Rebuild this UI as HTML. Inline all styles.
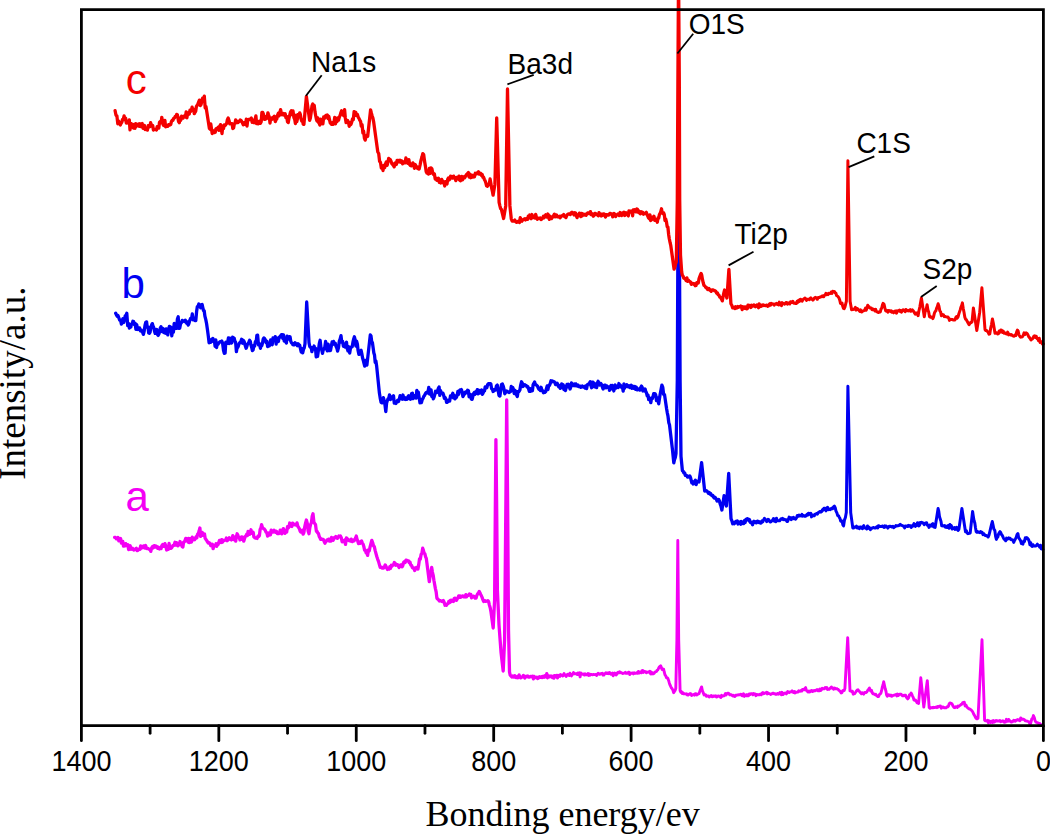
<!DOCTYPE html>
<html><head><meta charset="utf-8"><style>
html,body{margin:0;padding:0;background:#fff;}
body{width:1050px;height:834px;overflow:hidden;}
svg{display:block;}
</style></head><body>
<svg width="1050" height="834" viewBox="0 0 1050 834">
<rect width="1050" height="834" fill="#fff"/>
<g fill="none" stroke-width="3.3" stroke-linejoin="round" stroke-linecap="round">
<path d="M114.6,537.4 L115.4,537.5 L116.3,538.8 L117.2,539.0 L118.0,537.4 L118.8,540.8 L119.7,539.2 L120.6,538.6 L121.4,543.1 L122.1,541.5 L122.8,541.5 L123.5,546.2 L124.2,544.7 L125.0,545.8 L125.7,543.6 L126.4,545.5 L127.1,545.4 L127.9,544.8 L128.6,549.6 L129.4,547.5 L130.2,545.8 L130.9,549.3 L131.7,548.9 L132.5,548.3 L133.2,549.5 L134.0,550.0 L134.8,549.3 L135.5,548.9 L136.3,548.3 L137.1,550.6 L137.8,550.4 L138.6,549.4 L139.3,549.0 L140.0,549.3 L140.7,545.8 L141.4,548.1 L142.2,547.2 L142.9,547.6 L143.6,545.9 L144.3,546.6 L145.0,548.0 L145.7,545.5 L146.4,548.5 L147.2,548.7 L147.9,548.5 L148.6,548.9 L149.3,549.3 L150.0,549.4 L150.8,551.4 L151.5,548.2 L152.3,546.8 L153.1,547.9 L153.8,545.9 L154.6,545.7 L155.4,547.1 L156.1,546.1 L156.9,546.6 L157.8,548.4 L158.6,547.3 L159.5,548.9 L160.3,548.3 L161.1,548.6 L161.8,545.7 L162.6,544.6 L163.4,546.3 L164.1,546.4 L164.9,543.7 L165.8,545.9 L166.6,550.0 L167.5,549.1 L168.3,549.4 L169.1,543.5 L169.8,547.9 L170.6,548.4 L171.4,548.0 L172.1,547.0 L172.9,545.4 L173.6,545.6 L174.3,544.5 L175.0,542.3 L175.8,545.1 L176.5,542.7 L177.2,543.5 L177.9,545.8 L178.6,544.3 L179.3,544.8 L180.0,541.5 L180.7,543.2 L181.4,544.5 L182.2,546.6 L182.9,547.0 L183.6,542.1 L184.3,542.0 L185.0,540.6 L185.7,538.4 L186.4,538.6 L187.2,540.2 L187.9,542.0 L188.6,538.3 L189.3,542.7 L190.0,538.6 L190.8,540.5 L191.5,542.0 L192.3,537.1 L193.1,540.0 L193.8,539.1 L194.6,539.7 L195.3,538.3 L196.1,536.7 L196.8,537.9 L197.6,534.2 L198.3,533.5 L199.1,531.1 L199.9,528.0 L200.6,536.4 L201.4,532.5 L202.2,532.5 L202.9,535.3 L203.7,534.6 L204.5,533.9 L205.2,538.4 L206.0,539.5 L206.8,540.6 L207.5,541.9 L208.3,543.1 L209.2,542.7 L210.0,543.5 L210.8,545.7 L211.7,546.0 L212.4,544.2 L213.1,548.7 L213.8,546.2 L214.6,545.4 L215.3,545.6 L216.0,543.8 L216.7,546.3 L217.4,543.7 L218.1,544.5 L218.8,542.4 L219.5,540.4 L220.2,540.9 L221.0,542.5 L221.7,539.7 L222.4,542.2 L223.1,540.3 L224.1,540.7 L225.0,540.0 L225.7,540.0 L226.4,538.0 L227.1,540.7 L227.8,540.1 L228.6,539.5 L229.3,537.8 L230.0,538.7 L230.7,539.4 L231.4,539.9 L232.1,538.4 L232.8,535.6 L233.6,539.6 L234.3,538.8 L235.0,537.1 L235.7,541.2 L236.4,536.6 L237.1,533.8 L237.9,535.3 L238.6,537.4 L239.3,537.8 L240.0,539.9 L240.8,538.7 L241.5,536.9 L242.2,539.2 L242.9,537.3 L243.7,541.2 L244.4,538.9 L245.2,536.7 L245.9,535.9 L246.7,534.3 L247.4,535.5 L248.1,531.3 L248.8,532.2 L249.6,534.4 L250.3,532.6 L251.0,529.8 L251.7,533.4 L252.4,533.1 L253.2,532.3 L253.9,536.9 L254.7,537.7 L255.5,538.1 L256.3,537.9 L257.1,538.5 L257.9,536.3 L258.7,536.6 L259.4,535.6 L260.1,529.6 L260.9,528.0 L261.6,524.6 L262.5,527.6 L263.5,528.7 L264.4,529.1 L265.2,530.2 L266.0,532.1 L266.8,532.6 L267.6,536.1 L268.4,535.4 L269.1,532.9 L269.8,533.3 L270.5,534.7 L271.2,530.1 L272.0,532.2 L272.7,532.2 L273.4,531.8 L274.1,530.3 L274.9,532.0 L275.6,532.4 L276.4,531.3 L277.2,533.5 L277.9,533.3 L278.7,533.7 L279.5,533.2 L280.2,530.2 L281.0,532.2 L281.8,533.8 L282.5,530.4 L283.3,528.6 L284.1,530.1 L285.0,533.3 L285.9,530.5 L286.7,532.0 L287.5,526.7 L288.2,528.1 L289.0,526.9 L289.7,523.0 L290.4,525.0 L291.1,526.2 L291.9,526.5 L292.6,523.2 L293.3,523.7 L294.0,524.4 L294.7,524.6 L295.5,524.9 L296.2,525.0 L297.0,522.9 L297.8,526.2 L298.5,527.2 L299.3,528.6 L300.1,531.1 L300.8,532.2 L301.6,532.2 L302.4,530.1 L303.1,534.2 L303.9,532.6 L304.7,527.1 L305.6,522.9 L306.4,520.0 L307.3,523.4 L308.1,530.9 L309.0,533.7 L309.8,527.9 L310.6,524.4 L311.4,522.7 L312.2,516.2 L313.0,513.7 L313.9,522.1 L314.7,523.5 L315.5,524.5 L316.4,531.4 L317.1,531.5 L317.8,533.0 L318.5,533.6 L319.2,536.4 L319.9,537.7 L320.6,539.3 L321.3,538.8 L322.0,539.4 L322.8,539.3 L323.5,539.7 L324.2,541.6 L324.9,543.2 L325.6,541.7 L326.4,541.2 L327.1,539.9 L327.9,540.6 L328.6,539.1 L329.4,541.1 L330.1,539.7 L330.9,541.1 L331.6,537.4 L332.4,540.0 L333.1,540.3 L333.8,538.8 L334.5,537.4 L335.2,537.7 L335.9,536.6 L336.6,537.8 L337.4,538.3 L338.1,537.6 L338.9,536.0 L339.6,536.4 L340.4,536.0 L341.3,537.8 L342.1,541.8 L343.0,541.6 L343.8,541.1 L344.7,540.1 L345.5,544.4 L346.4,537.9 L347.2,539.8 L348.0,539.3 L348.8,540.6 L349.6,540.5 L350.4,541.0 L351.2,539.1 L352.0,541.6 L352.7,541.5 L353.4,540.3 L354.2,540.7 L354.9,539.5 L355.6,538.0 L356.3,536.0 L357.0,539.2 L357.8,541.2 L358.5,543.6 L359.2,543.4 L360.0,543.3 L360.8,541.4 L361.6,541.0 L362.4,543.1 L363.1,544.1 L363.9,546.8 L364.6,550.1 L365.4,550.2 L366.1,552.8 L366.9,552.5 L367.6,555.4 L368.4,549.9 L369.3,550.8 L370.1,546.8 L371.0,543.4 L371.8,540.4 L372.6,542.5 L373.5,545.8 L374.3,546.7 L375.2,550.6 L376.0,553.6 L376.8,556.5 L377.7,559.3 L378.5,561.4 L379.4,564.6 L380.2,567.4 L381.0,567.0 L381.9,568.0 L382.7,567.5 L383.6,568.1 L384.4,566.8 L385.2,564.9 L386.0,566.4 L386.8,568.2 L387.5,569.4 L388.3,568.6 L389.1,569.1 L389.8,566.7 L390.5,568.4 L391.3,565.3 L392.0,566.0 L392.7,565.0 L393.5,565.0 L394.3,562.5 L395.1,563.2 L395.9,565.3 L396.7,564.9 L397.5,564.6 L398.3,566.0 L399.1,567.5 L399.9,566.2 L400.6,564.9 L401.3,565.0 L402.1,566.8 L402.8,565.7 L403.5,562.6 L404.3,561.7 L405.2,562.4 L406.0,560.1 L406.9,560.4 L407.7,560.8 L408.5,560.9 L409.2,562.8 L410.0,562.1 L410.8,565.1 L411.6,565.3 L412.3,567.5 L413.1,568.0 L413.9,567.9 L414.7,570.5 L415.5,568.8 L416.3,567.5 L417.1,567.4 L417.9,569.1 L418.7,564.9 L419.5,559.0 L420.3,559.1 L421.1,554.5 L421.9,553.3 L422.7,548.2 L423.4,550.3 L424.1,553.0 L424.9,553.9 L425.6,556.8 L426.3,558.4 L429.3,581.7 L430.1,576.0 L430.9,572.4 L431.7,567.4 L432.4,572.1 L433.2,575.3 L433.9,580.2 L434.7,584.7 L435.4,588.6 L436.2,592.2 L436.9,598.1 L437.7,599.1 L438.5,599.8 L439.4,601.0 L440.2,600.7 L441.1,600.8 L441.9,601.5 L442.7,601.7 L443.4,600.6 L444.2,602.4 L445.0,605.2 L445.8,604.8 L446.5,605.3 L447.3,603.9 L448.1,603.5 L448.8,601.4 L449.6,602.7 L450.4,600.3 L451.2,600.2 L451.9,601.4 L452.7,600.3 L453.5,601.4 L454.2,598.3 L455.0,598.2 L455.7,599.9 L456.5,600.3 L457.2,598.9 L458.0,597.6 L458.7,595.9 L459.5,597.3 L460.2,595.9 L461.0,597.2 L461.7,596.5 L462.4,595.8 L463.1,596.0 L463.8,596.8 L464.5,596.0 L465.2,596.9 L465.9,594.6 L466.6,596.9 L467.3,595.3 L468.0,595.4 L468.7,595.3 L469.4,594.0 L470.1,594.8 L470.8,594.5 L471.6,597.8 L472.3,596.5 L473.0,596.4 L473.7,596.1 L474.5,597.2 L475.2,598.2 L476.0,598.2 L476.8,595.6 L477.6,593.8 L478.4,593.2 L479.2,591.4 L479.9,592.7 L480.7,594.5 L481.4,595.8 L482.1,597.4 L482.9,599.7 L483.6,601.5 L484.3,600.9 L485.0,600.6 L485.7,601.4 L486.5,601.2 L487.2,601.1 L487.9,600.7 L488.6,601.5 L489.4,605.1 L490.2,607.8 L491.0,612.0 L493.2,628.0 L494.6,600.0 L495.4,500.0 L495.9,439.6 L496.6,500.0 L497.4,590.0 L499.0,625.0 L501.0,652.0 L503.2,671.0 L504.6,640.0 L505.9,500.0 L506.7,400.0 L507.6,500.0 L508.5,630.0 L509.5,672.0 L510.2,675.2 L511.0,676.0 L511.8,676.9 L512.5,676.0 L513.2,676.2 L514.0,677.1 L514.8,675.7 L515.5,677.1 L516.2,677.6 L516.9,676.8 L517.7,677.7 L518.4,676.2 L519.1,675.0 L519.8,676.9 L520.5,677.9 L521.2,677.6 L522.0,676.9 L522.7,676.6 L523.4,675.5 L524.1,676.8 L524.8,678.0 L525.6,677.0 L526.3,676.2 L527.0,676.5 L527.7,676.0 L528.4,677.1 L529.1,676.9 L529.8,677.0 L530.5,676.3 L531.2,676.5 L531.9,676.7 L532.6,676.2 L533.4,678.9 L534.1,676.4 L534.8,677.0 L535.5,677.5 L536.2,677.7 L536.9,677.2 L537.6,678.5 L538.3,678.2 L539.0,677.1 L539.7,676.6 L540.4,677.3 L541.1,677.0 L541.8,677.6 L542.5,676.3 L543.2,676.4 L543.9,677.2 L544.6,676.0 L545.4,675.6 L546.1,676.8 L546.8,673.7 L547.5,677.8 L548.2,675.8 L548.9,676.1 L549.6,676.8 L550.3,676.4 L551.0,676.0 L551.7,676.8 L552.5,677.6 L553.2,676.2 L553.9,678.1 L554.6,675.7 L555.4,676.2 L556.1,676.7 L556.8,675.4 L557.5,677.8 L558.2,675.5 L559.0,675.7 L559.7,676.1" stroke="#f400f4" stroke-width="3.3"/>
<path d="M559.7,676.1 L560.4,674.6 L561.1,675.3 L561.9,674.9 L562.6,676.1 L563.3,675.7 L564.1,673.6 L564.8,675.1 L565.5,674.9 L566.2,676.5 L567.0,674.7 L567.7,674.3 L568.4,675.1 L569.2,675.5 L569.9,673.2 L570.6,674.4 L571.4,675.9 L572.1,674.9 L572.8,674.1 L573.5,672.5 L574.3,673.7 L575.0,673.8 L575.7,673.8 L576.5,673.7 L577.2,674.4 L577.9,673.0 L578.6,674.5 L579.4,672.8 L580.1,676.9 L580.8,672.9 L581.5,674.1 L582.3,674.0 L583.0,674.4 L583.7,674.1 L584.4,675.0 L585.1,673.7 L585.9,674.6 L586.6,674.8 L587.3,674.7 L588.0,673.5 L588.7,675.4 L589.5,674.1 L590.2,675.1 L590.9,674.6 L591.6,674.5 L592.3,674.7 L593.0,674.7 L593.8,674.5 L594.5,674.6 L595.2,674.6 L595.9,674.4 L596.6,675.5 L597.3,674.4 L598.1,673.2 L598.8,673.8 L599.5,674.2 L600.2,674.2 L601.0,673.5 L601.7,673.7 L602.4,673.3 L603.1,675.1 L603.8,675.1 L604.6,673.9 L605.3,673.3 L606.0,672.7 L606.7,673.5 L607.5,673.6 L608.2,672.8 L608.9,673.7 L609.6,672.5 L610.3,673.8 L611.0,674.2 L611.8,673.8 L612.5,673.1 L613.2,675.8 L613.9,673.8 L614.6,673.0 L615.3,673.3 L616.1,675.0 L616.8,674.1 L617.5,672.8 L618.2,672.3 L618.9,672.9 L619.6,671.8 L620.4,672.2 L621.1,672.8 L621.8,672.9 L622.5,673.5 L623.2,673.3 L624.0,673.1 L624.7,673.0 L625.4,672.3 L626.1,673.4 L626.9,673.3 L627.6,673.2 L628.3,672.3 L629.0,672.3 L629.7,674.6 L630.5,673.0 L631.2,673.3 L631.9,673.2 L632.6,672.9 L633.4,673.9 L634.1,672.8 L634.8,673.3 L635.5,673.4 L636.2,673.3 L637.0,672.5 L637.7,673.2 L638.4,671.4 L639.1,673.1 L639.8,672.6 L640.6,671.9 L641.3,672.6 L642.0,670.6 L642.7,670.5 L643.4,672.5 L644.2,671.3 L644.9,671.5 L645.6,671.6 L646.3,672.7 L647.0,672.1 L647.8,672.3 L648.5,672.0 L649.2,671.8 L649.9,671.3 L650.6,673.9 L651.3,672.1 L652.1,674.0 L652.8,673.1 L653.5,673.7 L654.2,673.3 L654.9,672.1 L655.6,671.6 L656.4,671.6 L657.1,670.3 L657.8,670.0 L658.5,668.5 L659.3,667.0 L660.0,666.5 L660.7,665.8 L661.4,667.6 L662.1,669.4 L662.9,669.0 L663.6,669.1 L664.3,672.2 L665.0,674.9 L665.8,675.9 L666.5,677.8 L667.2,677.6 L667.9,678.5 L668.6,680.4 L669.3,682.9 L670.0,684.9 L670.8,686.6 L671.5,688.0 L672.2,688.8 L672.9,690.2 L673.6,692.7 L674.3,691.6 L675.1,690.5 L675.8,688.4 L676.9,640.0 L677.8,540.5 L678.7,640.0 L680.1,690.6 L680.8,692.2 L681.5,691.7 L682.2,693.5 L683.0,692.9 L683.7,693.8 L684.4,693.8 L685.1,693.9 L685.9,694.0 L686.6,693.8 L687.3,694.9 L688.0,695.1 L688.8,694.3 L689.5,694.4 L690.2,693.6 L690.9,693.9 L691.6,695.5 L692.4,694.9 L693.1,694.9 L693.8,694.4 L694.6,695.1 L695.3,693.7 L696.0,693.6 L696.8,694.9 L697.5,694.4 L698.3,694.0 L699.0,693.7 L699.9,691.1 L700.7,689.1 L701.6,686.9 L702.4,690.7 L703.3,692.9 L704.1,694.9 L704.8,694.7 L705.5,694.8 L706.3,696.2 L707.0,696.2 L707.7,696.0 L708.5,695.9 L709.2,697.1 L709.9,696.3 L710.6,696.4 L711.4,695.5 L712.1,696.8 L712.8,696.6 L713.5,695.9 L714.3,696.3 L715.0,696.0 L715.7,695.8 L716.4,697.1 L717.2,696.7 L717.9,696.0 L718.6,696.0 L719.4,696.1 L720.1,697.0 L720.9,697.4 L721.6,695.3 L722.4,696.3 L723.1,695.9 L723.9,695.9 L724.6,695.2 L725.4,693.6 L726.1,695.0 L726.9,693.6 L727.6,693.1 L728.3,693.2 L729.1,693.7 L729.8,694.9 L730.5,694.9 L731.2,694.7 L732.0,695.4 L732.7,696.0 L733.4,695.4 L734.2,696.4 L734.9,696.5 L735.6,695.3 L736.3,695.3 L737.1,695.0 L737.8,695.0 L738.5,694.8 L739.2,694.8 L740.0,694.7 L740.7,694.3 L741.4,694.4 L742.1,695.7 L742.8,695.7 L743.5,693.8 L744.3,696.4 L745.0,694.9 L745.7,695.3 L746.4,695.7 L747.1,694.6 L747.8,695.8 L748.5,695.8 L749.2,693.9 L750.0,694.5 L750.7,693.6 L751.4,693.6 L752.1,693.7 L752.9,694.8 L753.6,693.5 L754.4,693.9 L755.2,693.9 L755.9,695.7 L756.7,694.4 L757.5,694.9 L758.2,694.6 L759.0,694.9 L759.8,694.4 L760.5,694.1 L761.3,694.8 L762.1,693.1 L762.8,692.5 L763.6,693.8 L764.4,693.4 L765.1,692.9 L765.9,693.1 L766.6,692.2 L767.3,694.0 L768.0,692.9 L768.7,693.5 L769.4,693.7 L770.1,694.0 L770.8,694.4 L771.5,693.8 L772.2,693.8 L772.9,693.1 L773.6,693.1 L774.3,693.9 L775.0,693.7 L775.7,694.3 L776.4,694.4 L777.1,693.7 L777.8,693.5 L778.5,694.2 L779.2,693.6 L779.9,692.4 L780.6,693.7 L781.3,694.8 L782.0,692.3 L782.7,694.6 L783.4,694.3 L784.1,693.1 L784.8,693.1 L785.5,693.0 L786.3,693.9 L787.0,692.8 L787.7,691.6 L788.5,692.3 L789.2,692.5 L789.9,692.0 L790.6,691.8 L791.4,691.8 L792.1,690.9 L792.8,691.7 L793.5,692.5 L794.3,691.5 L795.0,693.0 L795.7,692.0 L796.4,692.4 L797.2,692.2 L797.9,692.0 L798.7,690.7 L799.4,691.4 L800.2,691.3 L800.9,690.6 L801.7,691.0 L802.4,689.5 L803.2,689.4 L803.9,689.9 L804.7,688.6 L805.6,687.6 L806.4,690.4 L807.2,691.1 L808.1,692.0 L808.9,691.0 L809.6,692.0 L810.4,691.6 L811.1,690.7 L811.9,690.5 L812.7,691.5 L813.4,691.1 L814.2,690.4 L814.9,691.0 L815.7,690.3 L816.4,690.4 L817.1,689.6 L817.8,690.7 L818.5,689.8 L819.3,690.8 L820.0,689.1 L820.7,690.5 L821.4,689.7 L822.2,688.2 L822.9,688.6 L823.7,688.8 L824.5,688.8 L825.2,687.5 L826.0,688.0 L826.8,687.6 L827.5,689.4 L828.3,689.1 L829.1,689.4 L829.8,688.5 L830.6,688.0 L831.4,687.0 L832.1,688.1 L832.9,688.0 L833.6,689.3 L834.4,687.9 L835.1,688.6 L835.9,688.9 L836.6,688.6 L837.4,689.1 L838.2,689.4 L838.9,690.3 L839.7,690.9 L840.5,691.7 L841.2,692.9 L842.0,692.6 L842.7,690.7 L843.5,690.2 L844.2,690.6 L844.9,688.6 L847.7,637.7 L850.0,690.9 L850.8,691.0 L851.6,691.5 L852.4,691.2 L853.2,694.2 L854.0,693.7 L854.8,693.5 L855.6,692.3 L856.4,691.0 L857.2,690.1 L858.0,689.7 L858.9,691.1 L859.7,691.7 L860.5,692.8 L861.4,693.7 L862.2,692.7 L862.9,693.2 L863.7,694.1 L864.5,692.7 L865.2,692.4 L866.0,692.6 L866.9,691.9 L867.7,690.4 L868.5,689.3 L869.4,688.0 L870.1,690.1 L870.8,691.0 L871.5,690.3 L872.2,692.6 L872.9,693.7 L873.6,693.8 L874.3,694.1 L875.0,694.7 L875.8,694.3 L876.5,695.7 L877.2,695.6 L877.9,696.6 L878.6,696.6 L879.4,694.5 L880.1,694.2 L880.9,693.1 L881.6,690.7 L882.3,687.0 L883.0,685.0 L883.7,681.7 L884.4,685.1 L885.2,688.8 L885.9,691.0 L886.6,694.9 L887.3,696.2 L888.0,694.9 L888.7,694.7 L889.5,695.3 L890.2,695.8 L890.9,695.1 L891.6,696.3 L892.3,696.0 L893.0,695.4 L893.8,695.4 L894.5,694.9 L895.2,694.9 L895.9,694.5 L896.7,695.9 L897.4,694.0 L898.1,695.6 L898.8,694.9 L899.6,694.1 L900.3,694.3 L901.1,694.2 L901.8,695.1 L902.6,695.8 L903.4,695.8 L904.1,695.3 L904.9,695.4 L905.6,695.2 L906.3,697.2 L907.0,698.1 L907.7,698.9 L908.6,697.8 L909.4,695.0 L910.2,694.8 L911.1,693.1 L911.8,694.2 L912.5,696.0 L913.3,697.7 L914.0,700.0 L914.8,700.4 L915.5,700.1 L916.3,701.3 L917.1,702.9 L917.8,703.0 L918.6,703.4 L920.8,677.8 L923.8,707.0 L927.3,680.6 L929.2,707.7 L930.0,708.3 L930.8,707.7 L931.6,707.9 L932.4,707.4 L933.2,707.7 L933.9,707.3 L934.7,707.5 L935.4,707.3 L936.1,707.0 L936.9,707.6 L937.6,706.5 L938.3,707.0 L939.1,706.1 L939.8,706.4 L940.5,706.1 L941.3,708.2 L942.0,707.5 L942.7,706.9 L943.5,707.3 L944.2,707.8 L944.9,707.8 L945.7,707.8 L946.4,707.7 L947.1,706.8 L947.8,706.9 L948.5,706.0 L949.2,703.8 L949.9,702.9 L950.6,703.1 L951.3,703.3 L952.0,703.9 L952.8,705.6 L953.5,706.7 L954.2,707.5 L954.9,707.7 L955.7,706.7 L956.5,706.9 L957.2,707.5 L958.0,706.0 L958.8,706.3 L959.6,705.7 L960.4,705.1 L961.2,704.4 L961.9,704.1 L962.7,702.6 L963.5,702.4 L964.3,702.3 L965.1,706.0 L965.9,705.0 L966.7,706.5 L967.5,707.7 L968.3,708.3 L969.0,708.8 L969.8,709.1 L970.6,709.6 L971.3,710.1 L972.1,711.0 L972.9,712.2 L973.7,714.1 L974.4,715.2 L975.2,716.8 L976.0,718.2 L977.0,718.9 L978.0,718.2 L982.0,639.8 L984.6,720.2 L985.4,720.9 L986.1,720.8 L986.9,721.1 L987.6,720.3 L988.4,722.9 L989.1,720.8 L989.9,721.5 L990.6,722.5 L991.3,721.3 L992.0,721.2 L992.7,722.4 L993.4,720.6 L994.1,722.1 L994.9,721.7 L995.6,720.6 L996.3,720.5 L997.0,721.1 L997.7,720.8 L998.4,721.0 L999.1,720.9 L999.8,720.5 L1000.6,721.8 L1001.3,721.3 L1002.0,721.4 L1002.8,720.8 L1003.5,721.1 L1004.2,722.2 L1005.0,722.1 L1005.7,722.0 L1006.4,719.3 L1007.2,720.5 L1007.9,721.2 L1008.6,719.4 L1009.4,720.6 L1010.1,720.8 L1010.8,721.8 L1011.6,722.1 L1012.3,721.5 L1013.0,721.4 L1013.7,720.3 L1014.4,720.5 L1015.1,721.2 L1015.8,720.7 L1016.5,719.9 L1017.2,720.0 L1017.9,719.6 L1018.6,720.2 L1019.3,720.2 L1020.0,720.7 L1020.7,717.9 L1021.4,719.3 L1022.1,719.3 L1022.8,718.9 L1023.6,719.4 L1024.3,719.6 L1025.1,720.7 L1025.8,720.8 L1026.6,721.1 L1027.3,721.1 L1028.1,721.5 L1029.1,721.9 L1030.1,724.8 L1030.9,722.4 L1031.8,718.9 L1032.6,718.3 L1033.4,715.6 L1034.3,717.6 L1035.1,720.8 L1036.0,722.2 L1036.8,722.4 L1037.5,722.9 L1038.3,722.9 L1039.0,724.1 L1039.8,723.6 L1040.5,725.0 L1041.3,724.8" stroke="#f400f4" stroke-width="2.9"/>
<path d="M115.7,313.3 L116.5,315.0 L117.2,316.3 L118.0,315.6 L118.8,317.8 L119.7,320.3 L120.6,320.2 L121.4,324.1 L122.2,320.5 L122.9,318.7 L123.7,322.5 L124.5,319.5 L125.2,315.9 L126.0,315.6 L126.8,313.3 L127.7,325.7 L128.6,323.5 L129.4,328.1 L130.1,326.6 L130.8,327.1 L131.5,324.0 L132.2,323.9 L132.9,321.3 L133.7,321.6 L134.4,324.6 L135.2,323.4 L135.9,329.4 L136.7,324.7 L137.4,328.1 L138.1,329.4 L138.9,328.0 L139.6,327.9 L140.4,330.9 L141.1,329.9 L141.9,331.6 L142.6,332.1 L143.4,334.4 L144.2,331.0 L145.0,325.5 L145.8,322.2 L146.6,321.9 L147.3,327.4 L148.0,326.9 L148.7,333.0 L149.4,333.3 L150.1,332.2 L150.9,326.8 L151.6,325.0 L152.3,323.6 L153.0,325.9 L153.8,327.6 L154.5,331.3 L155.2,333.4 L155.9,331.0 L156.7,329.5 L157.4,334.4 L158.1,335.4 L158.9,333.9 L159.6,331.8 L160.3,328.1 L161.0,326.8 L161.8,331.6 L162.5,331.6 L163.2,328.5 L163.9,332.7 L164.7,332.7 L165.4,333.3 L166.2,328.8 L167.0,330.9 L167.8,334.9 L168.6,329.6 L169.4,326.4 L170.2,326.9 L171.0,327.2 L171.8,335.9 L172.6,329.7 L173.4,332.1 L174.2,323.4 L175.0,328.7 L175.8,325.5 L176.6,328.4 L177.4,319.0 L178.2,316.8 L178.9,328.4 L179.7,328.1 L180.5,323.9 L181.4,322.8 L182.2,320.4 L183.1,320.7 L183.8,321.3 L184.6,321.6 L185.3,320.3 L186.0,321.8 L186.7,323.2 L187.4,321.9 L188.2,325.1 L188.9,323.6 L189.8,320.3 L190.6,318.4 L191.5,319.0 L192.3,313.9 L193.2,319.9 L194.2,318.3 L195.1,320.7 L195.8,320.6 L196.6,311.6 L197.3,306.8 L198.0,306.4 L198.8,304.0 L199.7,306.1 L200.6,307.7 L201.4,304.7 L202.1,304.4 L202.8,307.6 L203.5,310.5 L204.2,310.8 L204.9,316.1 L205.8,319.6 L206.6,323.8 L207.5,330.0 L208.3,336.1 L209.1,342.9 L209.8,340.1 L210.6,342.4 L211.4,339.5 L212.1,339.0 L212.9,338.4 L213.6,341.6 L214.4,340.7 L215.1,346.4 L215.8,340.0 L216.6,347.5 L217.3,343.0 L218.0,344.3 L218.7,343.2 L219.4,342.2 L220.2,341.6 L220.9,341.9 L221.8,341.1 L222.6,343.2 L223.5,350.3 L224.3,353.3 L225.1,353.2 L225.8,342.2 L226.6,343.0 L227.5,343.4 L228.4,338.0 L229.1,343.6 L229.8,338.2 L230.5,338.7 L231.2,343.1 L231.9,342.6 L232.6,337.1 L233.4,340.2 L234.1,338.0 L234.9,341.1 L235.6,342.1 L236.4,351.7 L237.1,347.7 L237.8,347.4 L238.5,345.6 L239.2,343.5 L239.9,342.6 L240.8,341.8 L241.6,339.3 L242.5,343.2 L243.3,340.3 L244.2,341.7 L245.2,345.5 L246.1,348.3 L246.8,346.6 L247.5,344.1 L248.2,343.4 L248.9,342.0 L249.6,340.3 L250.3,341.4 L251.0,345.2 L251.7,347.5 L252.4,350.6 L253.1,349.9 L253.9,345.4 L254.6,346.1 L255.4,341.6 L256.1,342.4 L256.9,335.3 L257.6,335.1 L258.5,344.9 L259.5,343.8 L260.4,348.3 L261.1,344.9 L261.8,345.6 L262.5,343.0 L263.2,339.1 L263.9,338.0 L264.6,338.6 L265.4,339.8 L266.1,342.6 L266.9,341.2 L267.6,346.5 L268.4,346.0 L269.2,345.9 L269.9,345.0 L270.7,339.8 L271.5,343.0 L272.2,344.7 L273.0,338.0 L273.8,338.9 L274.5,340.6 L275.3,336.6 L276.1,344.2 L276.8,338.2 L277.6,341.4 L278.4,341.5 L279.1,337.2 L279.9,337.2 L280.6,335.8 L281.4,334.6 L282.1,334.6 L282.8,338.5 L283.5,334.9 L284.2,341.1 L284.9,339.2 L285.6,341.4 L286.4,343.0 L287.1,336.1 L287.9,338.4 L288.6,339.0 L289.4,336.7 L290.1,336.9 L290.8,341.4 L291.5,342.9 L292.2,343.2 L292.9,344.7 L293.6,344.9 L294.4,344.8 L295.1,342.8 L295.9,343.9 L296.6,344.6 L297.4,345.7 L298.1,343.7 L298.9,344.8 L299.6,345.0 L300.4,348.4 L301.2,352.0 L301.9,348.6 L302.7,352.9 L303.5,349.3 L304.2,348.0 L305.0,343.7 L306.7,302.0 L309.0,342.6 L309.7,346.3 L310.4,347.4 L311.2,347.3 L311.9,351.7 L312.6,348.4 L313.4,349.0 L314.1,346.0 L314.8,349.2 L315.5,348.3 L316.2,356.8 L316.9,353.8 L317.6,356.3 L319.3,343.7 L320.1,340.3 L320.9,347.0 L321.7,349.7 L322.5,353.3 L323.3,349.4 L324.1,349.3 L324.8,347.2 L325.6,341.4 L326.5,347.2 L327.3,350.8 L328.1,344.1 L329.0,350.6 L329.8,349.3 L330.5,350.4 L331.3,346.1 L332.1,342.0 L332.8,344.4 L333.6,341.4 L334.4,344.0 L335.2,343.2 L336.0,346.3 L336.8,347.9 L337.6,351.1 L338.5,347.7 L339.3,341.1 L340.1,339.2 L341.0,335.7 L341.8,342.4 L342.6,341.4 L343.4,346.3 L344.2,346.2 L344.9,347.0 L345.7,344.0 L346.5,342.3 L347.2,348.4 L348.0,350.9 L348.9,346.8 L349.7,353.1 L350.5,348.1 L351.4,346.9 L352.2,346.8 L352.9,342.4 L353.7,338.9 L354.4,336.8 L355.1,339.7 L355.9,346.1 L356.6,341.1 L357.4,344.2 L358.1,350.7 L358.9,354.3 L359.6,354.1 L360.4,351.1 L361.1,350.3 L361.8,353.5 L362.6,358.1 L363.3,360.4 L364.0,363.4 L364.7,366.1 L365.4,360.5 L366.2,363.2 L366.9,365.1 L370.3,334.9 L371.0,335.9 L371.7,341.5 L372.4,342.6 L373.1,347.4 L373.8,352.7 L374.5,354.9 L375.2,362.3 L375.9,360.9 L376.6,365.7 L379.4,393.1 L380.2,398.1 L381.1,402.3 L381.9,402.8 L382.6,400.8 L383.4,397.7 L384.2,400.6 L385.1,405.7 L385.8,411.6 L386.6,403.1 L387.3,400.8 L388.0,398.9 L388.8,398.0 L389.5,394.9 L390.3,399.5 L391.1,399.1 L391.8,397.7 L392.6,396.6 L393.5,395.8 L394.3,403.2 L395.1,402.3 L396.0,403.4 L396.9,401.5 L397.7,400.2 L398.5,401.6 L399.4,398.9 L400.1,395.7 L400.8,397.3 L401.5,397.4 L402.2,399.2 L403.0,395.0 L403.7,398.2 L404.4,399.2 L405.1,397.7 L405.8,399.5 L406.6,399.3 L407.3,399.1 L408.0,396.5 L408.7,395.7 L409.4,397.9 L410.2,399.2 L410.9,398.9 L411.6,393.5 L412.4,393.2 L413.1,398.7 L413.9,396.1 L414.6,396.5 L415.3,395.5 L416.1,398.1 L416.8,390.4 L417.6,393.0 L418.3,392.0 L420.0,402.9 L420.8,401.6 L421.5,402.4 L422.3,399.3 L423.1,398.2 L423.8,396.3 L424.6,395.4 L425.5,393.3 L426.3,392.5 L427.1,393.0 L428.0,392.0 L428.8,387.4 L429.5,394.1 L430.3,393.9 L431.1,389.8 L431.8,396.5 L432.6,395.4 L433.3,398.8 L434.0,397.3 L434.7,394.8 L435.5,391.3 L436.2,392.1 L436.9,392.5 L437.6,390.6 L438.3,388.6 L439.1,387.0 L439.8,395.4 L440.6,390.7 L441.4,393.0 L442.1,393.2 L442.9,393.1 L443.6,395.0 L444.4,398.3 L445.1,397.5 L445.9,399.0 L446.6,402.4 L447.4,402.3 L448.2,400.9 L448.9,400.0 L449.7,400.9 L450.5,395.8 L451.2,397.0 L452.0,395.4 L452.8,393.2 L453.5,397.9 L454.2,395.3 L455.0,398.9 L455.7,397.7 L456.4,397.4 L457.1,395.5 L457.9,391.4 L458.6,394.5 L459.3,390.8 L460.0,389.9 L460.7,390.3 L461.4,389.6 L462.1,391.7 L462.9,396.5 L463.6,395.4 L464.4,394.2 L465.2,392.2 L466.0,391.8 L466.8,392.8 L467.6,390.3 L468.4,390.7 L469.1,396.9 L469.9,395.2 L470.6,394.6 L471.4,399.1 L472.1,399.4 L472.8,396.5 L473.5,393.6 L474.2,392.6 L474.9,394.4 L475.6,392.0 L476.5,393.2 L477.3,389.7 L478.1,393.9 L479.0,390.3 L479.9,393.0 L480.7,391.1 L481.5,389.9 L482.4,394.3 L483.1,392.9 L483.8,391.3 L484.5,390.9 L485.2,386.9 L485.9,386.9 L486.8,387.7 L487.6,384.7 L488.4,383.6 L489.3,384.0 L490.1,383.6 L490.8,383.8 L491.6,388.8 L492.4,389.0 L493.1,391.5 L493.9,390.9 L494.8,389.4 L495.6,390.0 L496.4,386.0 L497.3,385.1 L499.0,395.4 L499.9,396.1 L500.7,390.6 L501.5,384.4 L502.4,384.0 L503.2,386.0 L504.0,389.2 L504.8,393.8 L505.6,392.4 L506.4,390.9 L507.1,391.2 L507.8,391.7 L508.5,392.1 L509.2,392.5 L509.9,392.0 L510.6,391.5 L511.3,386.3 L512.0,389.0 L512.7,387.4 L513.5,389.3 L514.2,393.5 L515.0,390.4 L515.8,391.6 L516.5,394.8 L517.3,396.6 L518.1,391.5 L519.0,391.5 L519.9,389.9 L520.7,385.1 L521.5,381.8 L522.3,383.1 L523.1,386.5 L523.9,385.1 L524.7,384.6 L525.5,385.1 L526.2,385.5 L527.0,386.9 L527.8,386.6 L528.5,388.5 L529.3,391.4 L530.1,388.6 L530.8,391.2 L531.6,388.7 L532.4,390.8 L533.1,384.9 L533.9,383.4 L534.6,382.0 L535.3,384.5 L536.0,384.7 L536.8,385.4 L537.5,386.1 L538.2,388.0 L538.9,389.3 L539.6,388.6 L540.4,390.5 L541.1,387.3 L541.9,390.2 L542.6,390.5 L543.4,392.8 L544.1,392.0 L544.9,392.4 L545.6,391.7 L546.4,388.8 L547.2,385.9 L547.9,389.7 L548.7,385.7 L549.5,385.5 L550.2,383.7 L551.0,380.8 L551.8,381.7 L552.5,381.0 L553.3,381.7 L554.1,381.7 L554.8,382.5 L555.6,384.6 L556.4,384.3 L557.1,383.2 L557.9,385.1 L558.7,386.9 L559.4,385.5 L560.2,388.3 L560.9,387.9 L561.7,383.9 L562.4,386.9 L563.2,384.8 L563.9,389.6 L564.7,388.6 L565.5,390.5 L566.2,387.0 L567.0,384.4 L567.8,386.8 L568.5,384.3 L569.3,385.1 L570.0,389.0 L570.8,387.1 L571.5,382.9 L572.2,385.4 L572.9,384.3 L573.7,385.6 L574.4,384.0 L575.1,385.7 L575.8,383.9 L576.5,385.5 L577.3,386.0 L578.0,385.1 L578.7,386.6 L579.4,386.7 L580.1,386.2 L580.8,387.3 L581.5,386.3 L582.3,386.0 L583.0,387.0 L583.7,387.2 L584.4,386.5 L585.1,388.1 L585.8,386.0 L586.6,388.6 L587.3,385.0 L588.0,384.1 L588.7,384.1 L589.4,383.1 L590.2,381.7 L590.9,385.5 L591.6,387.7 L592.3,382.2 L593.0,382.1 L593.8,383.4 L594.5,386.9 L595.2,384.0 L595.9,383.7 L596.6,387.7 L597.4,383.0 L598.1,381.3 L598.8,383.7 L599.5,385.1 L600.2,383.5 L600.9,383.5 L601.7,384.9 L602.4,387.1 L603.1,389.0 L603.8,386.4 L604.5,385.1 L605.2,385.2 L606.0,387.8 L606.7,385.9 L607.4,386.7 L608.1,387.6 L608.8,387.0 L609.5,390.3 L610.2,387.1 L611.0,385.5 L611.7,388.8 L612.4,385.4 L613.1,388.0 L613.8,391.0 L614.5,388.0 L615.3,385.0 L616.0,388.1 L616.7,386.7 L617.4,387.3 L618.1,387.6 L618.9,383.5 L619.6,386.0 L620.3,385.0 L621.0,387.0 L621.7,387.4 L622.5,387.5 L623.2,391.1 L623.9,383.8 L624.6,388.2 L625.3,386.0 L626.1,386.2 L626.8,384.8 L627.5,386.5 L628.2,386.9 L629.0,385.7 L629.7,387.5 L630.4,386.7 L631.2,385.2 L631.9,388.3 L632.6,386.1 L633.4,387.2 L634.1,388.3 L634.9,386.5 L635.6,389.4 L636.3,387.1 L637.1,389.8 L637.8,389.8 L638.5,389.1 L639.3,388.8 L640.0,390.1 L640.7,387.5 L641.5,386.1 L642.2,387.3 L642.9,391.0 L643.6,389.0 L644.4,390.7 L645.1,389.0 L645.8,391.6 L646.5,392.9 L647.2,395.8 L648.0,395.1 L648.7,399.7 L649.4,399.5 L650.1,398.3 L650.8,402.7 L651.6,398.1 L652.3,398.7 L653.0,396.6 L653.7,393.7 L654.4,395.6 L655.1,393.7 L655.8,395.2 L656.5,400.7 L657.3,397.9 L658.0,400.3 L658.7,403.8 L660.1,394.5 L661.0,389.9 L661.9,385.1 L662.8,387.4 L663.6,394.3 L664.5,394.5 L666.6,408.8 L667.3,412.8 L668.0,416.2 L668.8,422.7 L669.5,424.7 L672.4,449.1 L673.8,462.8 L674.5,459.7 L675.3,457.4 L676.0,453.5 L677.3,380.0 L678.0,224.0 L679.3,224.0 L680.1,380.0 L681.0,456.3 L682.4,470.7 L683.1,471.1 L683.8,472.9 L684.6,472.8 L685.3,475.4 L686.0,475.0 L686.7,475.5 L687.5,477.1 L688.2,477.0 L688.9,476.3 L689.7,475.9 L690.4,477.2 L691.8,482.9 L692.5,481.8 L693.2,484.0 L694.0,481.6 L694.7,481.7 L695.4,480.2 L696.1,484.6 L696.9,482.3 L697.6,481.5 L699.0,482.0 L701.6,462.6 L704.7,491.1 L705.4,490.9 L706.2,490.6 L706.9,491.1 L707.7,491.9 L708.4,493.3 L709.2,492.6 L709.9,494.0 L710.6,493.5 L711.3,495.0 L712.0,495.7 L712.8,495.4 L713.5,497.0 L714.2,497.9 L714.9,497.2 L715.6,498.0 L716.4,499.4 L717.1,501.0 L717.9,500.4 L718.6,499.4 L719.4,500.8 L720.1,503.7 L721.0,506.3 L721.9,510.0 L724.1,495.7 L724.9,498.8 L725.6,503.6 L726.4,506.0 L728.7,473.4 L731.0,518.6 L731.9,520.8 L732.7,523.7 L733.5,522.4 L734.2,523.7 L735.0,523.2 L735.8,521.3 L736.5,521.4 L737.3,520.9 L738.1,524.0 L739.0,522.5 L739.9,522.0 L740.7,524.3 L741.4,521.5 L742.2,523.5 L742.9,523.2 L743.7,523.6 L744.4,520.8 L745.1,522.5 L745.9,519.4 L746.6,519.2 L747.4,518.7 L748.1,519.1 L748.8,520.7 L749.5,519.6 L750.3,522.4 L751.0,522.6 L751.7,522.5 L752.5,524.8 L753.2,522.0 L753.9,521.3 L754.6,522.4 L755.4,521.8 L756.1,522.9 L756.8,522.7 L757.5,521.1 L758.3,521.6 L759.0,522.6 L759.8,522.1" stroke="#0000f2" stroke-width="3.3"/>
<path d="M759.8,522.1 L760.5,523.3 L761.3,522.9 L762.1,520.9 L762.8,521.8 L763.6,520.0 L764.4,518.4 L765.1,519.1 L765.9,519.7 L766.6,521.6 L767.4,520.8 L768.1,519.3 L768.9,519.8 L769.6,521.3 L770.4,522.0 L771.2,521.7 L771.9,520.8 L772.7,520.2 L773.5,518.5 L774.2,521.1 L775.0,519.1 L775.8,521.7 L776.5,518.2 L777.3,520.6 L778.1,520.7 L778.8,520.7 L779.6,520.8 L780.4,519.6 L781.1,518.7 L781.9,519.1 L782.6,518.3 L783.3,519.6 L784.0,519.3 L784.8,519.5 L785.5,520.0 L786.2,519.7 L786.9,521.4 L787.6,521.4 L788.4,519.4 L789.1,517.1 L789.9,517.4 L790.6,517.6 L791.3,519.7 L792.0,517.8 L792.8,517.7 L793.5,517.3 L794.2,518.8 L794.9,518.7 L795.6,519.1 L796.5,517.8 L797.3,515.5 L798.1,516.4 L799.0,515.1 L799.7,516.0 L800.4,515.6 L801.1,515.9 L801.9,514.3 L802.6,516.1 L803.3,515.4 L804.0,515.7 L804.7,516.3 L805.5,516.3 L806.2,515.5 L807.0,514.3 L807.8,515.2 L808.5,513.2 L809.3,513.4 L810.0,514.5 L810.8,513.3 L811.5,516.9 L812.2,514.8 L812.9,515.8 L813.7,515.0 L814.4,515.7 L815.1,514.3 L815.9,514.1 L816.6,513.5 L817.4,514.1 L818.1,512.6 L818.8,512.4 L819.5,511.7 L820.3,511.4 L821.0,512.1 L821.7,511.6 L822.4,509.9 L823.1,510.3 L823.9,508.2 L824.6,508.2 L825.3,508.5 L826.0,510.9 L826.8,508.4 L827.5,507.2 L828.2,509.6 L828.9,509.7 L829.7,509.0 L830.4,509.6 L831.2,508.5 L832.0,508.1 L832.8,508.7 L833.6,506.9 L834.4,506.1 L835.2,507.7 L836.0,511.1 L836.9,512.9 L837.7,515.6 L838.5,515.7 L839.2,517.2 L840.0,518.6 L840.7,521.1 L841.4,520.6 L842.1,521.2 L842.9,524.9 L843.6,525.9 L844.5,519.9 L845.4,517.5 L846.3,512.6 L847.9,386.3 L850.7,512.6 L852.8,527.9 L853.5,528.0 L854.3,527.0 L855.0,527.3 L855.7,527.2 L856.5,526.2 L857.2,528.0 L858.0,527.7 L858.7,527.2 L859.4,528.6 L860.2,527.0 L860.9,526.9 L861.6,527.4 L862.4,528.8 L863.1,526.7 L863.8,525.7 L864.5,527.9 L865.3,528.1 L866.0,528.3 L866.7,529.0 L867.5,526.0 L868.2,528.4 L868.9,527.1 L869.6,527.9 L870.4,529.7 L871.1,528.5 L871.8,528.3 L872.6,527.9 L873.3,527.4 L874.0,527.8 L874.7,527.9 L875.5,528.1 L876.2,527.2 L876.9,526.7 L877.7,528.0 L878.4,525.7 L879.1,526.0 L879.8,526.4 L880.6,526.4 L881.3,526.5 L882.0,526.3 L882.8,526.0 L883.5,527.0 L884.2,527.5 L884.9,525.9 L885.7,526.9 L886.4,526.2 L887.1,526.9 L887.9,528.1 L888.6,526.8 L889.3,526.3 L890.0,526.4 L890.8,526.3 L891.5,526.9 L892.2,526.9 L893.0,526.3 L893.7,527.6 L894.4,526.9 L895.1,526.8 L895.9,525.5 L896.6,526.0 L897.3,525.7 L898.1,525.7 L898.8,525.6 L899.5,525.0 L900.2,524.3 L901.0,525.2 L901.7,525.3 L902.4,525.6 L903.2,526.0 L903.9,526.6 L904.6,527.9 L905.3,526.0 L906.1,526.1 L906.8,526.2 L907.5,526.5 L908.3,525.4 L909.0,526.2 L909.7,525.5 L910.4,526.1 L911.2,527.5 L911.9,525.9 L912.6,526.3 L913.3,525.4 L914.0,523.6 L914.7,525.1 L915.4,526.4 L916.1,524.3 L916.8,525.4 L917.5,522.7 L918.2,522.9 L918.9,525.9 L919.6,525.1 L920.3,522.5 L921.0,522.8 L921.8,522.3 L922.6,523.0 L923.4,523.0 L924.2,524.6 L925.0,523.3 L925.8,523.0 L926.6,522.8 L927.4,525.3 L928.2,525.2 L929.0,527.4 L929.8,525.1 L930.6,525.4 L931.3,526.0 L932.1,524.2 L932.8,523.7 L933.6,526.9 L934.3,526.2 L935.1,527.5 L938.1,508.5 L938.8,511.4 L939.5,516.6 L940.3,519.2 L941.0,521.4 L941.7,525.7 L942.4,525.3 L943.2,526.1 L943.9,526.0 L944.7,525.5 L945.4,527.2 L946.1,527.1 L946.9,527.5 L947.6,525.7 L948.4,525.6 L949.1,528.3 L949.9,524.5 L950.6,526.7 L951.4,525.7 L952.1,529.0 L952.9,528.7 L953.6,528.1 L954.4,527.5 L955.1,529.4 L955.9,529.1 L956.6,527.3 L957.4,529.2 L958.1,530.4 L958.9,529.3 L961.9,508.5 L965.5,531.7 L966.3,530.6 L967.1,532.9 L967.9,533.7 L968.6,533.4 L969.4,533.3 L970.2,532.9 L972.6,511.4 L973.3,516.1 L974.0,520.4 L974.8,523.0 L975.5,527.7 L976.2,531.7 L976.9,532.3 L977.7,531.6 L978.4,532.3 L979.2,532.3 L979.9,532.6 L980.6,531.5 L981.4,532.3 L982.1,532.3 L982.9,534.6 L983.6,533.5 L984.4,534.6 L985.1,535.4 L985.9,535.7 L986.6,535.6 L987.4,536.2 L988.1,537.0 L988.9,535.4 L989.8,531.8 L990.6,528.3 L991.5,524.6 L992.3,521.5 L993.1,525.3 L993.9,529.2 L994.8,530.4 L995.6,536.3 L996.4,539.4 L997.1,537.3 L997.8,537.2 L998.6,533.9 L999.3,532.6 L1000.0,531.7 L1000.7,532.5 L1001.4,534.4 L1002.1,535.1 L1002.8,536.5 L1003.5,538.1 L1004.2,539.4 L1005.0,539.3 L1005.7,540.8 L1006.5,538.1 L1007.2,539.2 L1008.0,538.6 L1008.7,537.9 L1009.5,538.8 L1010.2,538.3 L1010.9,539.7 L1011.6,539.7 L1012.3,539.8 L1013.0,540.1 L1013.7,542.4 L1014.5,540.4 L1015.4,538.9 L1016.2,537.4 L1017.1,534.4 L1017.9,533.5 L1018.6,537.5 L1019.3,538.6 L1020.0,539.7 L1020.7,541.2 L1021.4,543.6 L1022.2,542.9 L1022.9,544.1 L1023.7,541.1 L1024.5,541.4 L1025.3,537.7 L1026.0,538.7 L1026.8,537.6 L1027.6,538.3 L1028.4,539.4 L1029.2,541.3 L1029.9,544.7 L1030.7,542.6 L1031.5,546.0 L1032.2,546.4 L1033.0,544.7 L1033.7,545.8 L1034.4,546.1 L1035.2,546.1 L1035.9,546.0 L1036.6,545.3 L1037.4,544.2 L1038.1,545.4 L1038.9,545.8 L1039.7,547.1 L1040.5,545.2 L1041.3,548.8 L1042.1,549.0 L1042.9,549.5" stroke="#0000f2" stroke-width="3.0"/>
<path d="M115.1,110.7 L116.0,115.3 L116.9,115.9 L117.8,123.9 L118.6,121.1 L119.5,123.0 L120.3,125.0 L121.1,123.3 L121.8,122.3 L122.6,119.3 L123.3,119.1 L124.1,115.9 L124.8,119.6 L125.6,118.1 L126.3,123.1 L127.1,121.6 L127.8,121.6 L128.6,123.3 L129.3,119.9 L130.0,129.8 L130.7,123.4 L131.4,125.4 L132.2,124.2 L132.9,127.3 L133.6,128.0 L134.3,124.4 L135.0,128.3 L135.8,123.6 L136.5,126.3 L137.2,125.0 L137.9,125.2 L138.6,123.9 L139.3,126.2 L140.1,123.8 L140.8,126.6 L141.5,124.4 L142.2,123.6 L143.0,128.3 L143.7,125.8 L144.4,125.5 L145.1,129.5 L145.9,129.3 L146.6,129.6 L147.4,130.1 L148.2,125.6 L149.0,125.8 L149.8,126.8 L150.6,122.7 L151.3,124.6 L152.0,126.2 L152.7,125.4 L153.4,130.1 L154.2,129.2 L154.9,129.4 L155.7,129.3 L156.5,130.0 L157.2,126.7 L158.0,127.3 L158.8,128.1 L159.5,122.3 L160.3,121.6 L161.1,122.8 L161.8,117.3 L162.6,122.5 L163.4,125.4 L164.1,125.5 L164.9,120.4 L165.6,126.9 L166.4,125.2 L167.1,126.1 L167.8,126.3 L168.6,124.6 L169.3,125.2 L170.0,124.9 L170.7,124.5 L171.4,121.6 L172.2,120.2 L172.9,120.4 L173.7,118.4 L174.4,118.2 L175.2,116.4 L175.9,116.5 L176.7,114.4 L177.4,114.7 L178.6,121.6 L179.3,122.7 L180.1,117.9 L180.8,120.3 L181.6,116.1 L182.3,117.1 L183.1,118.1 L183.9,116.3 L184.6,115.7 L185.4,116.9 L186.2,111.8 L186.9,117.8 L187.7,113.0 L188.5,113.3 L189.2,114.1 L190.0,110.1 L190.7,111.3 L191.4,110.5 L192.1,107.2 L192.8,109.3 L193.6,109.1 L194.3,113.7 L195.0,112.3 L195.7,111.3 L196.4,106.5 L197.1,105.5 L197.9,104.1 L198.6,102.1 L199.4,100.1 L200.3,105.6 L201.1,104.5 L201.8,101.1 L202.6,98.1 L203.4,99.3 L204.3,96.2 L205.2,107.8 L206.0,106.7 L209.4,128.4 L210.1,129.2 L210.8,124.0 L211.5,128.9 L212.2,133.5 L212.9,130.7 L213.7,131.6 L214.4,132.6 L215.2,132.3 L215.9,128.9 L216.7,128.4 L217.4,128.4 L218.2,127.2 L218.9,130.4 L219.7,126.6 L220.5,124.6 L221.2,127.9 L222.0,133.5 L222.8,126.0 L223.5,128.6 L224.3,125.0 L225.1,125.6 L225.9,124.3 L226.7,123.4 L227.4,119.6 L228.2,117.9 L229.0,120.4 L229.8,123.9 L230.5,123.5 L231.3,123.6 L232.1,123.7 L232.8,128.5 L233.6,127.9 L234.3,123.9 L235.0,123.3 L235.7,119.9 L236.4,122.7 L237.2,121.3 L237.9,122.6 L238.7,121.8 L239.5,121.2 L240.2,120.0 L241.0,120.4 L241.8,121.7 L242.5,123.0 L243.3,124.8 L244.1,122.8 L244.8,124.4 L245.6,124.4 L246.3,119.2 L247.0,126.0 L247.7,120.4 L248.4,119.6 L249.2,119.3 L249.9,119.6 L250.6,118.9 L251.3,118.1 L252.2,122.3 L253.2,120.1 L254.1,122.7 L255.0,119.8 L255.9,115.9 L256.6,123.7 L257.4,121.4 L258.1,123.9 L258.9,123.4 L259.6,121.1 L260.4,123.4 L261.2,121.7 L261.9,112.5 L262.7,112.4 L263.5,114.4 L264.2,119.3 L265.0,119.3 L265.7,116.8 L266.4,118.7 L267.1,117.5 L267.9,112.8 L268.6,115.1 L269.3,117.1 L270.0,123.0 L270.7,118.1 L271.5,119.6 L272.2,118.0 L273.0,117.3 L273.8,118.7 L274.5,116.3 L275.3,121.6 L276.1,119.6 L276.8,118.9 L277.6,115.2 L278.4,113.2 L279.1,115.9 L279.9,112.4 L280.6,109.6 L281.4,113.3 L282.1,114.7 L282.9,114.1 L283.6,113.5 L284.4,115.3 L285.2,113.7 L285.9,117.7 L286.7,116.4 L287.5,121.7 L288.2,122.6 L289.0,118.1 L289.8,115.0 L290.5,112.1 L291.3,110.7 L292.1,114.7 L293.0,110.9 L293.9,117.5 L294.7,119.3 L295.4,123.5 L296.1,115.2 L296.8,121.6 L297.5,118.6 L298.3,114.3 L299.0,115.7 L299.7,112.9 L300.4,114.7 L301.1,119.2 L301.8,121.1 L302.5,119.8 L303.2,124.2 L303.9,124.4 L306.4,96.4 L309.6,120.4 L310.4,118.0 L311.2,112.2 L312.0,105.8 L312.8,103.9 L313.5,108.6 L314.2,105.3 L315.0,111.9 L315.7,115.8 L316.4,119.3 L317.1,121.1 L317.8,117.9 L318.5,122.3 L319.2,123.4 L319.9,125.0 L320.7,119.2 L321.4,119.6 L322.2,120.4 L322.9,123.8 L323.7,116.9 L324.4,118.4 L325.2,117.0 L325.9,115.4 L326.7,117.0 L327.4,115.0 L328.1,118.7 L328.8,116.3 L329.5,119.6 L330.3,123.0 L331.0,123.0 L331.7,124.4 L332.4,122.7 L333.2,124.3 L333.9,122.9 L334.7,117.4 L335.5,123.8 L336.2,118.5 L337.0,121.6 L337.8,117.8 L338.5,120.2 L339.3,117.2 L340.1,115.6 L340.8,112.9 L341.6,110.7 L342.3,112.6 L343.1,114.8 L343.8,115.7 L344.6,109.6 L345.3,117.7 L346.1,122.7 L346.9,121.8 L347.6,120.5 L348.4,122.0 L349.2,126.3 L350.0,122.7 L350.9,124.6 L351.7,122.2 L352.5,119.0 L353.3,119.7 L354.1,111.7 L355.0,115.5 L355.8,112.4 L356.6,115.2 L357.4,114.4 L358.2,117.3 L359.0,118.4 L359.8,120.3 L360.6,121.4 L361.3,126.3 L362.1,124.8 L362.9,133.0 L363.6,131.1 L364.4,138.1 L365.2,140.1 L366.0,136.8 L366.9,135.3 L367.7,136.2 L370.6,109.8 L371.4,113.2 L372.1,115.7 L372.9,118.0 L373.6,121.6 L376.9,145.4 L377.8,152.0 L378.7,153.5 L379.6,161.2 L380.5,162.5 L381.3,168.0 L382.2,165.8 L383.0,170.5 L383.9,165.3 L384.7,167.7 L385.5,163.8 L386.3,162.0 L387.1,165.4 L387.9,162.2 L388.7,158.4 L389.5,159.2 L390.3,159.7 L391.1,161.5 L391.9,163.8 L392.7,164.5 L393.4,165.5 L394.2,166.8 L394.9,163.1 L395.6,162.9 L396.4,164.4 L397.1,160.3 L397.8,160.3 L398.6,160.6 L399.3,161.9 L400.1,160.3 L401.0,162.2 L401.8,160.9 L402.6,163.8 L403.4,163.2 L404.2,161.8 L405.1,162.8 L405.9,157.9 L406.7,161.1 L407.4,163.0 L408.2,163.4 L408.9,159.7 L409.7,164.8 L410.4,165.4 L411.2,165.8 L412.0,164.9 L412.8,162.9 L413.6,164.1 L414.4,168.3 L415.2,164.5 L416.0,166.1 L416.8,166.7 L417.5,168.5 L418.3,168.5 L419.1,169.1 L420.1,164.8 L421.1,159.9 L422.0,156.8 L422.8,153.6 L423.7,154.6 L424.5,160.9 L425.4,166.1 L426.2,171.7 L427.0,173.1 L427.8,173.5 L428.6,174.0 L429.4,168.4 L430.2,173.4 L431.0,167.8 L431.9,168.9 L432.7,172.6 L433.6,174.4 L434.4,174.0 L435.2,179.0 L436.1,178.2 L436.9,180.3 L437.7,180.3 L438.5,178.2 L439.3,182.4 L440.1,180.5 L440.9,183.0 L441.7,179.4 L442.4,180.8 L443.2,182.8 L444.0,182.4 L444.7,186.0 L445.5,181.7 L446.2,183.4 L447.0,183.9 L447.7,179.3 L448.4,178.0 L449.2,179.9 L449.9,179.2 L450.6,176.2 L451.4,177.5 L452.1,177.0 L452.8,178.1 L453.6,176.1 L454.3,177.7 L455.0,178.1 L455.8,180.6 L456.5,177.3 L457.3,178.7 L458.1,178.0 L458.9,176.1 L459.6,180.1 L460.4,180.8 L461.1,180.1 L461.8,176.3 L462.6,179.8 L463.3,177.6 L464.0,176.7 L464.7,177.8 L465.4,176.5 L466.2,174.9 L466.9,174.2 L467.6,173.6 L468.4,172.6 L469.1,177.0 L469.9,174.2 L470.7,177.7 L471.5,175.1 L472.2,177.0 L473.0,177.2 L473.8,175.3 L474.5,176.7 L475.3,173.3 L476.1,173.7 L476.9,173.8 L477.6,172.7 L478.4,171.8 L479.1,174.1 L479.9,173.8 L480.6,173.2 L481.4,175.4 L482.1,174.3 L482.9,177.2 L483.6,177.2 L484.4,179.6 L485.1,180.7 L485.9,183.0 L486.6,185.8 L487.4,186.2 L488.3,184.6 L489.2,184.5 L490.1,179.0 L490.9,183.6 L491.6,187.8 L492.4,191.4 L493.1,195.2 L494.9,184.4 L496.7,117.8 L499.1,202.3 L499.9,205.8 L500.6,208.5 L501.4,209.3 L502.1,212.4 L502.9,215.7 L503.6,218.5 L505.7,205.9 L507.5,89.0 L509.9,205.9 L511.3,219.0 L512.2,221.2 L513.1,221.2 L514.0,221.0 L514.8,220.1 L515.6,221.5 L516.4,222.3 L517.2,222.1 L518.0,221.5 L518.8,221.1 L519.5,222.5 L520.3,217.6 L521.1,220.7 L521.9,221.2 L522.6,220.1 L523.4,219.5 L524.1,219.1 L524.8,218.8 L525.5,219.9 L526.2,218.8 L526.9,219.1 L527.6,219.3 L528.3,216.2 L529.0,218.0 L529.7,215.0 L530.5,215.8 L531.2,218.7 L532.0,214.5 L532.7,217.2 L533.5,217.6 L534.2,216.5 L535.0,218.0 L535.7,214.3 L536.5,217.7 L537.3,219.2 L538.1,218.7 L538.8,218.1 L539.6,218.5 L540.4,218.0 L541.1,219.6 L541.9,218.9 L542.7,218.3 L543.5,216.2 L544.2,217.7 L545.0,215.9 L545.7,214.8 L546.4,215.8 L547.2,217.1 L547.9,214.0 L548.6,216.4 L549.3,219.4 L550.0,216.2 L550.8,216.8 L551.5,218.6 L552.2,217.5 L552.9,216.8 L553.6,215.5 L554.4,214.2 L555.1,216.8 L555.8,216.7 L556.5,215.0 L557.2,216.7 L558.0,216.4 L558.7,217.0 L559.4,216.3 L560.1,217.7 L560.8,216.2 L561.6,216.2 L562.3,215.6 L563.0,215.4 L563.7,214.5 L564.4,216.4 L565.2,216.8 L565.9,217.5 L566.6,215.8 L567.4,214.6 L568.1,214.1 L568.9,213.9 L569.6,214.0 L570.4,214.5 L571.1,212.8 L571.9,212.2 L572.6,213.5 L573.4,213.0 L574.1,215.0 L574.9,212.8 L575.6,213.1 L576.4,215.8 L577.1,217.6 L577.9,214.6 L578.6,215.0 L579.4,213.1 L580.1,215.5 L580.8,216.6 L581.6,213.4 L582.3,215.8 L583.1,213.9 L583.8,214.7 L584.6,215.0 L585.3,214.2 L586.1,215.3 L586.8,213.8 L587.5,213.1 L588.2,212.8 L589.0,213.6 L589.7,213.0 L590.4,211.6 L591.1,214.5 L591.8,213.5 L592.6,215.1 L593.3,216.2 L594.0,215.3 L594.7,213.5 L595.5,213.5 L596.2,214.6 L596.9,214.7 L597.6,214.8 L598.3,215.8 L599.0,212.6 L599.8,213.8 L600.5,214.1 L601.2,216.0 L601.9,214.1 L602.6,215.4 L603.3,213.8 L604.0,213.8 L604.8,215.5 L605.5,217.0 L606.2,214.6 L606.9,214.7 L607.6,214.9 L608.3,215.1 L609.1,214.9 L609.8,213.4 L610.5,213.4 L611.2,214.2 L612.0,214.0 L612.7,216.8 L613.4,214.9 L614.1,213.5 L614.8,215.1 L615.6,216.5 L616.3,214.8 L617.0,214.7 L617.8,214.1 L618.5,215.0 L619.3,215.6 L620.1,212.5 L620.8,214.4 L621.6,215.6 L622.3,213.0 L623.1,212.7 L623.9,212.2 L624.6,215.5 L625.4,214.7 L626.1,212.8 L626.8,213.7 L627.6,214.9 L628.3,215.9 L629.0,210.8 L629.7,211.7 L630.5,212.1 L631.2,211.0 L631.9,211.2 L632.6,215.8 L633.3,210.0 L634.1,211.6 L634.8,209.7 L635.5,210.5 L636.2,211.9 L636.9,209.0 L637.6,209.4 L638.4,212.2 L639.1,211.1 L639.8,213.3 L640.5,213.8 L641.2,211.7 L642.0,212.2 L642.7,212.3 L643.4,214.2 L644.1,213.2 L644.9,213.5 L645.6,213.0 L646.3,212.3 L647.0,214.6 L647.7,215.8 L648.5,217.8 L649.2,218.5 L649.9,214.8 L650.6,220.5 L651.5,219.7 L652.3,217.1 L653.1,219.0 L654.0,216.3 L654.8,220.4 L655.6,219.9 L656.5,219.7 L657.3,222.2 L658.0,218.0 L658.7,218.1 L659.4,214.6 L660.1,213.4 L660.8,211.7 L661.5,208.8 L662.2,212.9 L662.9,213.6 L663.6,212.7 L664.3,214.6 L665.0,220.5 L665.7,218.9 L666.4,221.6 L667.2,226.7 L667.9,227.0 L668.6,234.2 L669.3,238.7 L670.1,242.7 L670.8,245.7 L674.1,269.2 L674.8,267.3 L675.6,263.8 L676.3,262.0 L677.3,200.0 L677.9,80.0 L678.4,-5.0 L678.7,-5.0 L679.3,80.0 L679.7,200.0 L680.5,255.0 L681.7,272.0 L682.3,275.1 L683.1,276.2 L683.8,278.1 L684.6,278.6 L685.4,279.0 L686.1,280.6 L686.9,277.9 L687.6,281.3 L688.4,280.2 L689.1,280.9 L689.9,281.6 L690.6,282.1 L691.4,284.4 L692.2,283.3 L692.9,283.3 L693.7,284.3 L694.5,283.8 L695.2,285.8 L696.0,285.5 L696.8,282.6 L697.5,283.0 L698.3,283.1 L699.0,278.9 L699.7,276.9 L700.4,275.0 L701.1,273.4 L701.8,275.4 L702.5,279.7 L703.3,283.1 L704.0,285.4 L704.9,286.0 L705.7,287.3 L706.5,287.5 L707.4,289.4 L708.2,289.6 L708.9,288.5 L709.7,289.6 L710.5,290.6 L711.2,291.3 L712.0,289.9 L712.8,289.9 L713.5,290.1 L714.3,290.6 L715.1,290.9 L715.8,291.4 L716.6,293.2 L717.4,292.9 L718.1,294.6 L718.9,295.1 L719.8,297.2 L720.6,297.3 L721.4,298.9 L722.3,300.9 L723.1,296.5 L723.8,293.1 L724.6,290.0 L725.4,293.6 L726.1,295.1 L726.9,298.0 L728.9,269.4 L730.9,303.7 L731.8,305.3 L732.6,307.7 L733.4,307.3 L734.1,308.1 L734.9,308.5 L735.6,306.7 L736.4,308.0 L737.1,307.9 L737.9,306.6 L738.6,307.3 L739.4,306.6 L740.1,306.9 L740.8,306.0 L741.5,306.9 L742.2,309.6 L743.0,306.8 L743.7,307.9 L744.4,307.1 L745.1,308.3 L745.8,307.1 L746.6,308.8 L747.3,308.6 L748.0,305.1 L748.7,306.9 L749.5,305.4 L750.2,306.5 L750.9,307.5 L751.6,305.3 L752.4,305.6 L753.1,306.0 L753.9,304.9 L754.6,305.7 L755.4,306.7 L756.2,305.8 L756.9,304.9 L757.7,305.5 L758.5,307.8 L759.2,303.8 L760.0,306.6" stroke="#f40000" stroke-width="3.3"/>
<path d="M760.0,306.6 L760.7,306.6 L761.4,305.5 L762.1,304.9 L762.8,305.8 L763.5,304.8 L764.2,305.5 L764.9,305.5 L765.6,305.8 L766.3,304.9 L767.0,305.1 L767.7,306.4 L768.4,306.1 L769.1,304.3 L769.8,303.7 L770.6,305.2 L771.3,303.3 L772.0,303.6 L772.7,304.3 L773.5,304.0 L774.2,305.2 L774.9,303.9 L775.6,304.1 L776.4,303.4 L777.1,304.3 L777.8,303.6 L778.6,305.0 L779.3,302.1 L780.0,304.7 L780.7,303.8 L781.5,305.7 L782.2,302.6 L782.9,303.6 L783.6,303.4 L784.4,304.2 L785.1,303.7 L785.9,302.5 L786.6,302.6 L787.4,304.1 L788.2,302.9 L788.9,303.6 L789.7,304.0 L790.5,301.7 L791.2,302.3 L792.0,302.6 L792.8,301.2 L793.5,302.7 L794.2,303.3 L795.0,303.3 L795.7,303.5 L796.4,303.4 L797.1,301.4 L797.9,302.4 L798.6,300.2 L799.3,301.4 L800.0,299.4 L800.7,299.3 L801.5,300.8 L802.2,301.1 L802.9,299.7 L803.6,299.0 L804.3,298.6 L805.0,298.0 L805.8,299.0 L806.5,300.4 L807.2,299.5 L808.0,299.2 L808.7,299.2 L809.4,299.7 L810.1,298.6 L810.8,297.9 L811.6,299.3 L812.3,299.0 L813.0,300.1 L813.7,299.1 L814.4,297.9 L815.2,297.4 L815.9,298.0 L816.6,297.7 L817.3,299.3 L818.0,297.7 L818.8,297.4 L819.5,297.5 L820.2,297.0 L820.9,296.8 L821.6,296.8 L822.3,295.9 L823.0,296.5 L823.8,296.7 L824.5,295.1 L825.2,294.9 L825.9,293.4 L826.6,294.7 L827.4,293.8 L828.1,294.6 L828.8,293.3 L829.5,293.6 L830.3,293.6 L831.1,292.1 L831.9,293.5 L832.7,291.3 L833.5,291.4 L834.3,291.4 L835.1,292.7 L835.9,293.3 L836.6,295.6 L837.4,296.0 L838.2,296.8 L839.0,298.0 L839.7,299.9 L840.5,303.4 L841.2,303.8 L842.0,303.1 L842.7,306.3 L843.5,308.4 L844.2,308.7 L844.9,307.2 L845.7,303.9 L846.4,301.2 L847.9,160.8 L850.1,301.2 L850.9,305.8 L851.6,309.8 L852.4,309.2 L853.1,309.4 L853.9,308.9 L854.6,309.2 L855.4,307.4 L856.1,310.1 L856.9,308.5 L857.6,308.7 L858.3,309.8 L859.0,310.3 L859.8,311.5 L860.5,309.8 L861.2,311.8 L861.9,312.0 L862.6,311.0 L863.3,310.9 L864.1,310.6 L864.8,309.7 L865.5,308.0 L866.2,310.2 L867.0,307.9 L867.7,305.3 L868.4,306.6 L869.1,306.8 L869.8,308.0 L870.6,308.0 L871.3,308.0 L872.0,309.5 L872.7,309.8 L873.5,309.1 L874.2,309.6 L874.9,310.9 L875.7,309.4 L876.4,311.5 L877.2,311.9 L878.0,312.3 L878.8,312.5 L879.5,311.8 L880.3,312.0 L881.0,309.1 L881.7,308.3 L882.4,305.1 L883.1,303.3 L884.0,304.2 L884.8,307.7 L885.7,310.9 L886.4,311.2 L887.1,310.6 L887.9,312.2 L888.6,310.6 L889.3,310.6 L890.0,310.8 L890.7,311.7 L891.4,310.9 L892.1,312.2 L892.9,311.7 L893.6,312.8 L894.3,312.0 L895.0,311.1 L895.8,311.1 L896.5,313.2 L897.2,310.9 L897.9,311.1 L898.6,310.8 L899.4,310.1 L900.1,311.4 L900.8,310.5 L901.5,312.1 L902.3,310.5 L903.0,309.8 L903.7,309.9 L904.4,310.8 L905.1,311.7 L905.9,309.5 L906.6,310.5 L907.3,310.8 L908.0,310.2 L908.7,310.9 L909.5,310.5 L910.2,309.7 L910.9,311.3 L911.6,310.9 L912.4,309.9 L913.1,310.8 L913.9,311.7 L914.7,313.2 L915.5,314.2 L916.2,313.1 L917.0,313.0 L918.1,315.7 L918.9,311.0 L919.8,307.0 L920.6,302.6 L921.4,298.1 L924.3,316.7 L925.0,312.3 L925.7,310.4 L926.4,308.3 L927.1,304.8 L927.9,309.7 L928.7,312.1 L929.5,316.7 L930.4,317.2 L931.2,317.0 L932.0,317.2 L932.9,318.6 L933.6,316.7 L934.4,313.1 L935.1,311.6 L935.9,310.8 L936.6,308.1 L937.4,306.5 L938.1,303.8 L938.9,306.1 L939.8,310.8 L940.6,311.9 L941.4,315.7 L942.1,314.5 L942.8,314.8 L943.5,314.8 L944.3,316.6 L945.0,316.4 L945.7,316.7 L946.5,316.9 L947.2,317.2 L948.0,317.1 L948.7,318.1 L949.5,320.4 L950.3,319.4 L951.0,319.3 L951.8,319.6 L952.5,319.4 L953.3,320.0 L954.1,320.1 L954.9,320.1 L955.7,317.7 L956.5,316.5 L957.3,318.1 L958.1,316.7 L958.8,314.0 L959.5,311.9 L960.2,309.9 L961.0,307.0 L961.7,305.4 L962.4,302.9 L963.2,308.2 L964.0,312.2 L964.8,317.0 L965.5,319.1 L966.2,319.5 L967.0,320.9 L967.7,322.2 L968.4,323.5 L969.1,324.7 L969.8,323.7 L970.5,322.6 L971.3,322.6 L972.0,321.8 L973.4,307.9 L976.8,330.5 L979.7,312.2 L981.9,287.8 L985.0,329.5 L985.8,330.6 L986.6,330.4 L987.4,331.4 L988.2,332.3 L989.0,334.2 L989.8,333.8 L990.7,328.0 L991.5,324.6 L992.4,318.9 L993.3,323.0 L994.1,327.8 L995.0,333.3 L995.9,332.9 L996.7,332.8 L997.5,333.9 L998.4,333.8 L999.2,331.0 L1000.0,332.2 L1000.8,330.0 L1001.6,330.2 L1002.5,332.4 L1003.3,331.2 L1004.1,333.3 L1004.8,332.7 L1005.5,333.2 L1006.3,334.0 L1007.0,334.1 L1007.7,332.1 L1008.5,334.9 L1009.2,334.4 L1009.9,334.3 L1010.7,335.0 L1011.4,334.6 L1012.2,335.4 L1012.9,335.8 L1013.7,336.2 L1014.4,336.0 L1015.2,334.8 L1015.9,335.4 L1016.6,332.0 L1017.4,330.1 L1018.1,330.9 L1018.9,334.6 L1019.7,336.1 L1020.5,337.2 L1021.2,336.9 L1021.9,336.9 L1022.6,336.5 L1023.4,334.9 L1024.1,332.8 L1024.8,334.5 L1025.5,333.9 L1026.2,332.9 L1027.0,333.5 L1027.8,334.6 L1028.6,336.5 L1029.4,337.5 L1030.2,338.6 L1031.0,340.0 L1031.7,339.1 L1032.5,338.8 L1033.2,337.6 L1033.9,336.2 L1034.7,335.8 L1035.4,337.5 L1036.2,336.3 L1037.0,338.6 L1037.8,339.0 L1038.5,340.6 L1039.3,338.2 L1040.1,342.4 L1040.8,341.4 L1041.6,342.9 L1042.5,344.1 L1043.4,344.0" stroke="#f40000" stroke-width="3.0"/>
</g>
<g stroke="#000" stroke-width="2.8" fill="none" stroke-linecap="round">
<path d="M81.4,725.7 L81.4,9.7 L1043.4,9.7 L1043.4,725.7 Z" stroke-linejoin="miter" stroke-linecap="square"/>
<line x1="1043.40" y1="725.7" x2="1043.40" y2="740.7"/>
<line x1="974.69" y1="725.7" x2="974.69" y2="733.3"/>
<line x1="905.97" y1="725.7" x2="905.97" y2="740.7"/>
<line x1="837.26" y1="725.7" x2="837.26" y2="733.3"/>
<line x1="768.54" y1="725.7" x2="768.54" y2="740.7"/>
<line x1="699.83" y1="725.7" x2="699.83" y2="733.3"/>
<line x1="631.11" y1="725.7" x2="631.11" y2="740.7"/>
<line x1="562.40" y1="725.7" x2="562.40" y2="733.3"/>
<line x1="493.69" y1="725.7" x2="493.69" y2="740.7"/>
<line x1="424.97" y1="725.7" x2="424.97" y2="733.3"/>
<line x1="356.26" y1="725.7" x2="356.26" y2="740.7"/>
<line x1="287.54" y1="725.7" x2="287.54" y2="733.3"/>
<line x1="218.83" y1="725.7" x2="218.83" y2="740.7"/>
<line x1="150.11" y1="725.7" x2="150.11" y2="733.3"/>
<line x1="81.40" y1="725.7" x2="81.40" y2="740.7"/>
</g>
<g stroke="#000" stroke-width="1.8">
<line x1="321.7" y1="75.2" x2="306" y2="95.8"/>
<line x1="533.7" y1="74.9" x2="507.4" y2="84.3"/>
<line x1="693.2" y1="33.7" x2="677.4" y2="53.5"/>
<line x1="874.3" y1="156.3" x2="848.6" y2="167.1"/>
<line x1="753.5" y1="251.7" x2="728.6" y2="265.4"/>
<line x1="936.7" y1="286" x2="921" y2="297.1"/>
</g>
<g font-family="'Liberation Sans', sans-serif" font-size="27" fill="#000">
<text transform="translate(1043.40,770.5) scale(1,1.06)" text-anchor="middle">0</text>
<text transform="translate(905.97,770.5) scale(1,1.06)" text-anchor="middle">200</text>
<text transform="translate(768.54,770.5) scale(1,1.06)" text-anchor="middle">400</text>
<text transform="translate(631.11,770.5) scale(1,1.06)" text-anchor="middle">600</text>
<text transform="translate(493.69,770.5) scale(1,1.06)" text-anchor="middle">800</text>
<text transform="translate(356.26,770.5) scale(1,1.06)" text-anchor="middle">1000</text>
<text transform="translate(218.83,770.5) scale(1,1.06)" text-anchor="middle">1200</text>
<text transform="translate(81.40,770.5) scale(1,1.06)" text-anchor="middle">1400</text>
</g>
<g font-family="'Liberation Sans', sans-serif" font-size="28" fill="#000">
<text transform="translate(311.0,72.0) scale(1,1.05)">Na1s</text>
<text transform="translate(507.6,74.0) scale(1,1.05)">Ba3d</text>
<text transform="translate(688.7,33.8) scale(1,1.05)">O1S</text>
<text transform="translate(856.4,153.0) scale(1,1.05)">C1S</text>
<text transform="translate(734.4,244.1) scale(1,1.05)">Ti2p</text>
<text transform="translate(922.6,278.7) scale(1,1.05)">S2p</text>
</g>
<g font-family="'Liberation Sans', sans-serif" font-size="42">
<text x="125.8" y="93.5" fill="#f40000">c</text>
<text x="121.4" y="298.2" fill="#0000f2">b</text>
<text x="125.5" y="511.2" fill="#f400f4">a</text>
</g>
<g font-family="'Liberation Serif', serif" font-size="36" fill="#000">
<text x="425.4" y="826">Bonding energy/ev</text>
<text transform="translate(25.3,479.8) rotate(-90)" x="0" y="0" font-size="37">Intensity/a.u.</text>
</g>
</svg>
</body></html>
